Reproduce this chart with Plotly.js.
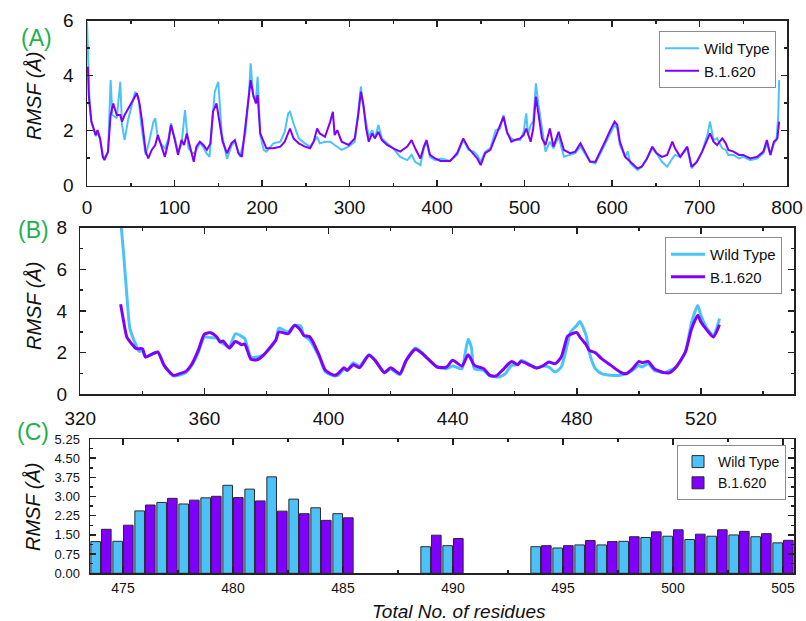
<!DOCTYPE html>
<html><head><meta charset="utf-8">
<script src="https://cdn.plot.ly/plotly-3.0.1.min.js"></script>
<style>html,body{margin:0;padding:0;background:#fff}#chart{width:806px;height:621px}</style>
</head><body><div id="chart"></div>
<script>
const seriesNames = ['Wild Type', 'B.1.620'];

// Panel A: full protein RMSF
const residuesA_WT = [0,1,3,5,7,10,12,15,19,24,27,29,34,38,40,43,47,51,55,59,62,67,71,76,78,81,85,89,93,96,100,104,108,112,116,120,123,129,133,136,140,144,146,150,154,160,165,169,175,181,185,187,190,193,195,198,202,205,213,221,226,230,232,236,242,249,255,263,266,272,278,283,286,291,299,306,310,313,316,319,322,326,329,333,337,343,350,358,366,371,375,381,385,388,392,398,405,415,423,430,436,442,446,450,455,461,467,472,476,480,485,489,495,499,502,504,507,510,513,516,520,524,529,533,539,545,552,558,564,569,575,581,587,592,598,603,606,609,615,618,621,629,634,640,646,651,657,663,669,672,678,683,686,691,697,703,709,712,716,720,726,730,733,739,745,750,758,766,773,777,781,785,788,790,791];
const rmsfA_WT = [5.95,4.99,2.93,2.33,2.10,1.80,1.95,1.65,0.99,1.20,3.84,2.57,2.45,3.78,2.21,1.66,2.40,2.87,3.42,3.18,2.21,1.12,1.60,2.33,2.45,1.72,1.50,1.36,1.70,2.27,1.70,1.24,1.50,2.75,1.36,1.20,1.18,1.55,1.40,1.20,1.05,2.60,3.42,3.78,1.90,0.97,1.45,1.60,1.05,1.90,3.30,4.45,3.24,3.10,3.96,1.84,1.30,1.24,1.54,1.60,1.96,2.63,2.69,2.27,1.72,1.54,1.42,1.78,1.54,1.60,1.60,1.48,1.42,1.30,1.42,1.60,2.69,3.60,2.81,2.21,1.78,2.02,1.72,2.21,1.72,1.54,1.36,1.05,0.93,1.12,0.87,0.75,1.36,1.60,1.05,0.93,0.99,0.90,1.12,1.66,1.30,1.24,1.12,0.87,1.24,1.36,2.02,2.08,2.57,1.90,1.72,1.66,1.66,1.96,2.63,1.84,2.21,2.33,3.72,2.93,2.08,1.24,1.60,1.36,1.78,1.05,1.12,1.18,1.42,1.18,0.87,0.81,1.18,1.54,1.90,2.21,2.08,1.48,1.05,1.25,0.81,0.57,0.69,0.99,1.36,1.18,0.87,0.69,0.99,1.12,1.05,1.24,1.36,0.63,0.87,1.24,1.84,2.33,1.66,1.72,1.36,1.30,1.12,1.12,0.99,1.05,0.93,0.99,1.18,1.54,1.12,1.54,1.66,2.57,3.84];
const residuesA_B = [1,2,5,7,10,12,15,18,20,24,27,30,34,38,40,43,47,53,57,60,63,67,70,74,78,81,85,89,93,96,100,104,108,111,114,118,122,125,129,133,137,141,144,148,151,155,160,165,169,173,177,181,185,187,190,193,195,198,205,213,221,226,232,236,242,249,255,259,263,266,272,278,281,283,286,291,299,306,310,313,316,319,322,326,329,333,337,343,350,358,366,371,375,381,385,388,392,398,404,415,423,430,436,442,446,450,455,461,467,472,476,480,485,489,495,499,502,507,510,513,516,520,524,529,533,539,545,552,558,564,569,575,581,587,592,598,603,606,609,615,621,629,634,640,646,651,657,663,669,672,678,683,686,691,697,703,709,712,716,720,726,730,733,739,745,750,758,766,773,777,781,785,789,791];
const rmsfA_B = [4.33,3.30,2.33,2.15,1.84,2.02,1.72,1.05,0.93,1.24,2.57,2.99,2.57,2.57,2.33,2.57,2.81,3.12,3.36,2.99,2.33,1.24,0.99,1.30,1.48,1.84,1.42,1.05,1.60,2.21,1.72,1.12,1.66,1.48,1.90,1.36,0.87,1.42,1.60,1.48,1.30,1.54,2.69,2.99,2.45,1.60,1.18,1.54,1.66,1.18,1.05,2.08,3.18,3.84,3.30,2.99,3.30,1.90,1.36,1.36,1.42,1.60,2.08,1.72,1.54,1.42,1.36,1.60,2.08,1.90,1.78,2.33,2.69,1.84,2.02,1.60,1.48,1.72,2.57,3.42,2.93,2.08,1.60,1.90,1.72,1.96,1.66,1.48,1.36,1.24,1.42,1.66,1.36,0.99,1.42,1.66,1.12,0.99,0.90,0.90,1.18,1.72,1.36,1.12,0.99,0.75,1.18,1.30,1.78,2.15,2.51,1.96,1.60,1.66,1.72,1.84,2.08,1.60,2.08,3.24,2.57,1.72,1.48,2.08,1.42,1.96,1.30,1.18,1.24,1.54,1.24,0.87,0.87,1.24,1.60,2.02,2.33,2.21,1.60,1.05,0.87,0.63,0.69,0.99,1.42,1.18,1.05,1.12,1.60,1.36,1.05,1.30,1.42,0.69,0.87,1.24,1.72,1.90,1.60,1.48,1.72,1.54,1.30,1.24,1.12,1.12,0.99,1.05,1.24,1.66,1.12,1.60,1.72,2.33];

// Panel B: residues 333-526
const residuesB_WT = [333,334,335,336,338,339,340,341,343,345,347,350,352,354,356,358,360,362,364,366,368,370,372,373,375,377,379,381,383,384,387,389,391,392,394,397,399,402,403,405,406,408,410,413,415,418,420,423,425,428,430,432,435,438,440,443,444,445,446,447,450,452,455,457,459,461,462,465,467,469,471,473,475,477,478,480,481,483,484,486,488,491,494,496,498,500,501,503,505,508,512,515,517,519,520,522,524,526];
const rmsfB_WT = [8.4,6.67,4.75,3.15,2.35,2.06,2.11,1.79,1.92,2.03,1.39,0.88,0.92,1.05,1.40,2.00,2.75,2.72,2.70,2.43,2.27,2.91,2.78,2.67,1.79,1.79,1.90,2.19,2.60,3.18,2.99,3.31,3.28,2.83,2.60,1.79,1.07,0.88,0.91,1.20,1.15,1.52,1.35,1.90,1.63,1.04,1.22,0.94,1.60,2.22,2.02,1.71,1.31,1.23,1.36,1.23,1.95,2.64,2.27,1.23,1.15,0.88,0.83,0.99,1.39,1.42,1.63,1.42,1.26,1.36,1.31,1.07,1.31,2.43,2.99,3.31,3.50,2.83,2.03,1.23,0.99,0.91,0.91,0.99,1.15,1.39,1.31,1.47,1.15,1.04,1.31,2.03,3.47,4.27,3.79,3.15,2.83,3.63];
const residuesB_B = [333,334,335,337,338,340,341,343,345,347,350,352,354,356,358,360,362,364,365,366,368,370,372,373,375,377,379,381,383,384,387,389,391,392,394,397,399,402,403,405,406,408,410,413,415,418,420,423,425,428,430,432,435,438,440,443,445,447,450,452,454,456,459,461,462,465,467,469,471,473,475,477,478,480,481,483,484,486,488,491,494,496,498,500,501,503,505,508,510,512,515,517,519,520,522,524,526];
const rmsfB_B = [4.32,3.47,2.75,2.35,2.19,2.19,1.79,1.92,2.03,1.39,0.91,0.99,1.10,1.47,2.11,2.89,2.96,2.75,2.51,2.56,2.22,2.54,2.38,2.41,1.68,1.66,1.87,2.22,2.59,2.99,2.91,3.31,3.07,2.83,2.75,1.87,1.15,0.91,0.99,1.28,1.15,1.42,1.28,1.87,1.63,1.04,1.28,0.99,1.63,2.16,1.98,1.71,1.31,1.31,1.63,1.36,1.90,1.39,1.23,0.91,0.88,1.15,1.58,1.42,1.58,1.39,1.26,1.36,1.55,1.47,1.79,2.78,2.88,2.96,2.75,2.38,2.11,2.00,1.71,1.39,1.07,0.99,1.23,1.58,1.52,1.58,1.23,1.04,1.04,1.31,2.03,3.15,3.79,3.47,3.07,2.75,3.34];

// Panel C: selected residues
const residuesC = [474,475,476,477,478,479,480,481,482,483,484,485,489,490,494,495,496,497,498,499,500,501,502,503,504,505];
const rmsfC_WT = [1.24,1.25,2.44,2.77,2.71,2.95,3.44,3.29,3.77,2.90,2.56,2.33,1.04,1.08,1.04,0.99,1.11,1.11,1.25,1.40,1.45,1.32,1.45,1.50,1.43,1.19];
const rmsfC_B = [1.72,1.88,2.67,2.93,2.86,3.01,2.96,2.83,2.43,2.33,2.07,2.17,1.49,1.36,1.08,1.08,1.28,1.24,1.43,1.62,1.70,1.53,1.70,1.64,1.55,1.29];

const panelLabels = ['(A)', '(B)', '(C)'];
const yTitle = 'RMSF (Å)';
const xTitle = 'Total No. of residues';

const cWT = '#4cc2fb', cB = '#8000ff';
const FONT = 'Arial, "Liberation Sans", sans-serif';
const W = 806, H = 621;
const px = v => v / W, py = v => 1 - v / H;

const traces = [
  {x: residuesA_WT, y: rmsfA_WT, type: 'scatter', mode: 'lines', name: seriesNames[0], line: {color: cWT, width: 2}, xaxis: 'x', yaxis: 'y', legend: 'legend'},
  {x: residuesA_B, y: rmsfA_B, type: 'scatter', mode: 'lines', name: seriesNames[1], line: {color: cB, width: 2}, xaxis: 'x', yaxis: 'y', legend: 'legend'},
  {x: residuesB_WT, y: rmsfB_WT, type: 'scatter', mode: 'lines', name: seriesNames[0], line: {color: cWT, width: 3, shape: 'spline', smoothing: 0.6}, xaxis: 'x2', yaxis: 'y2', legend: 'legend2'},
  {x: residuesB_B, y: rmsfB_B, type: 'scatter', mode: 'lines', name: seriesNames[1], line: {color: cB, width: 3, shape: 'spline', smoothing: 0.6}, xaxis: 'x2', yaxis: 'y2', legend: 'legend2'},
  {x: residuesC, y: rmsfC_WT, type: 'bar', name: seriesNames[0], marker: {color: cWT, line: {color: '#2a2a2a', width: 1}}, xaxis: 'x3', yaxis: 'y3', legend: 'legend3'},
  {x: residuesC, y: rmsfC_B, type: 'bar', name: seriesNames[1], marker: {color: cB, line: {color: '#2a2a2a', width: 1}}, xaxis: 'x3', yaxis: 'y3', legend: 'legend3'}
];

function axis(extra) {
  return Object.assign({
    showline: true, mirror: 'ticks', linecolor: '#222', linewidth: 1.5,
    ticks: 'inside', ticklen: 6, tickwidth: 1.5, tickcolor: '#222',
    showgrid: false, zeroline: false, fixedrange: true,
    tickfont: {family: FONT, size: 19, color: '#111'}
  }, extra);
}

const legendBase = {
  xanchor: 'right', yanchor: 'top', bgcolor: '#fff', bordercolor: '#8c8c8c', borderwidth: 1,
  font: {family: FONT, size: 15, color: '#111'}, itemwidth: 34, tracegroupgap: 0
};

function ann(text, x, y, size, color, angle) {
  return {text: text, x: px(x), y: py(y), xref: 'paper', yref: 'paper', xanchor: 'center', yanchor: 'middle',
    showarrow: false, textangle: angle || 0, font: {family: FONT, size: size, color: color}};
}

const layout = {
  width: W, height: H,
  margin: {l: 0, r: 0, t: 0, b: 0},
  paper_bgcolor: '#fff', plot_bgcolor: '#fff',
  font: {family: FONT, color: '#111'},
  barmode: 'group', bargap: 0.03, bargroupgap: 0.1,
  xaxis: axis({domain: [px(87), px(787)], anchor: 'y', range: [0, 800], dtick: 100, tick0: 0,
    minor: {dtick: 50, ticks: 'inside', ticklen: 3, tickcolor: '#222'}, ticklabelstandoff: 4}),
  yaxis: axis({domain: [py(185.7), py(20.7)], anchor: 'x', range: [0, 6], dtick: 2, tick0: 0,
    minor: {dtick: 1, ticks: 'inside', ticklen: 3, tickcolor: '#222'}, ticklabelstandoff: 8}),
  xaxis2: axis({domain: [px(80.3), px(794)], anchor: 'y2', range: [320, 550], dtick: 40, tick0: 320,
    minor: {dtick: 20, ticks: 'inside', ticklen: 3, tickcolor: '#222'}, ticklabelstandoff: 6}),
  yaxis2: axis({domain: [py(394.3), py(227.7)], anchor: 'x2', range: [0, 8], dtick: 2, tick0: 0,
    minor: {dtick: 1, ticks: 'inside', ticklen: 3, tickcolor: '#222'}, ticklabelstandoff: 8}),
  xaxis3: axis({domain: [px(90), px(794)], anchor: 'y3', range: [473.5, 505.5], dtick: 5, tick0: 475,
    minor: {dtick: 2.5, ticks: 'inside', ticklen: 3, tickcolor: '#222'},
    tickfont: {family: FONT, size: 14, color: '#111'}, ticklabelstandoff: 1}),
  yaxis3: axis({domain: [py(573.3), py(439)], anchor: 'x3', range: [0, 5.25], dtick: 0.75, tick0: 0,
    tickformat: '.2f', minor: {dtick: 0.375, ticks: 'inside', ticklen: 3, tickcolor: '#222'},
    tickfont: {family: FONT, size: 13, color: '#111'}, ticklabelstandoff: 6}),
  legend: Object.assign({}, legendBase, {x: px(776), y: py(31)}),
  legend2: Object.assign({}, legendBase, {x: px(782), y: py(237)}),
  legend3: Object.assign({}, legendBase, {x: px(786), y: py(445), font: {family: FONT, size: 14, color: '#111'}, itemwidth: 30}),
  showlegend: true,
  annotations: [
    ann(panelLabels[0], 36, 38, 23, '#1db04c'),
    ann(panelLabels[1], 33, 230, 23, '#1db04c'),
    ann(panelLabels[2], 33, 432, 23, '#1db04c'),
    ann('<i>' + yTitle + '</i>', 34, 96, 20, '#111', -90),
    ann('<i>' + yTitle + '</i>', 34, 306, 20, '#111', -90),
    ann('<i>' + yTitle + '</i>', 33, 507, 20, '#111', -90),
    ann('<i>' + xTitle + '</i>', 459, 611, 19, '#111')
  ]
};

Plotly.newPlot('chart', traces, layout, {displayModeBar: false, staticPlot: true});
</script>
</body></html>
